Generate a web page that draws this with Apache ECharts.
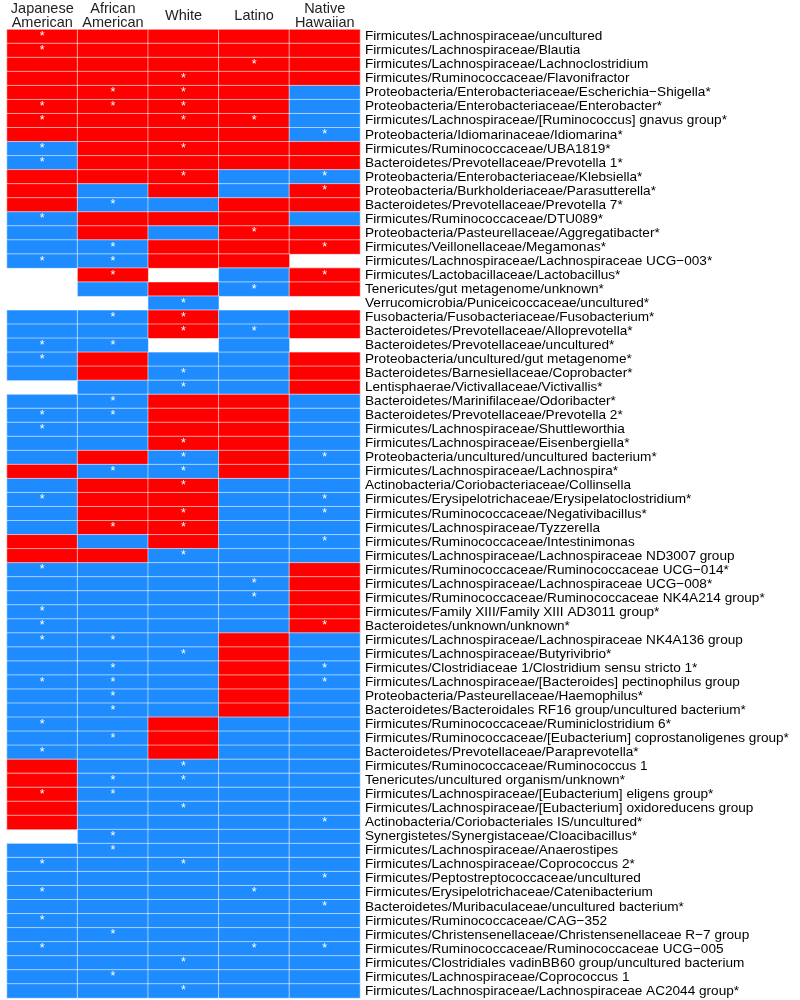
<!DOCTYPE html>
<html>
<head>
<meta charset="utf-8">
<script src="https://cdn.jsdelivr.net/npm/echarts@6/dist/echarts.min.js"></script>
<style>
html,body{margin:0;padding:0;background:#fff;}
#chart{width:800px;height:1000px;}
</style>
</head>
<body>
<div id="chart"></div>
<script>
// Column groups
const groups = ["Japanese\nAmerican", "African\nAmerican", "White", "Latino", "Native\nHawaiian"];

// Taxa (rows, top to bottom)
const taxa = [
  "Firmicutes/Lachnospiraceae/uncultured",
  "Firmicutes/Lachnospiraceae/Blautia",
  "Firmicutes/Lachnospiraceae/Lachnoclostridium",
  "Firmicutes/Ruminococcaceae/Flavonifractor",
  "Proteobacteria/Enterobacteriaceae/Escherichia\u2212Shigella*",
  "Proteobacteria/Enterobacteriaceae/Enterobacter*",
  "Firmicutes/Lachnospiraceae/[Ruminococcus] gnavus group*",
  "Proteobacteria/Idiomarinaceae/Idiomarina*",
  "Firmicutes/Ruminococcaceae/UBA1819*",
  "Bacteroidetes/Prevotellaceae/Prevotella 1*",
  "Proteobacteria/Enterobacteriaceae/Klebsiella*",
  "Proteobacteria/Burkholderiaceae/Parasutterella*",
  "Bacteroidetes/Prevotellaceae/Prevotella 7*",
  "Firmicutes/Ruminococcaceae/DTU089*",
  "Proteobacteria/Pasteurellaceae/Aggregatibacter*",
  "Firmicutes/Veillonellaceae/Megamonas*",
  "Firmicutes/Lachnospiraceae/Lachnospiraceae UCG\u2212003*",
  "Firmicutes/Lactobacillaceae/Lactobacillus*",
  "Tenericutes/gut metagenome/unknown*",
  "Verrucomicrobia/Puniceicoccaceae/uncultured*",
  "Fusobacteria/Fusobacteriaceae/Fusobacterium*",
  "Bacteroidetes/Prevotellaceae/Alloprevotella*",
  "Bacteroidetes/Prevotellaceae/uncultured*",
  "Proteobacteria/uncultured/gut metagenome*",
  "Bacteroidetes/Barnesiellaceae/Coprobacter*",
  "Lentisphaerae/Victivallaceae/Victivallis*",
  "Bacteroidetes/Marinifilaceae/Odoribacter*",
  "Bacteroidetes/Prevotellaceae/Prevotella 2*",
  "Firmicutes/Lachnospiraceae/Shuttleworthia",
  "Firmicutes/Lachnospiraceae/Eisenbergiella*",
  "Proteobacteria/uncultured/uncultured bacterium*",
  "Firmicutes/Lachnospiraceae/Lachnospira*",
  "Actinobacteria/Coriobacteriaceae/Collinsella",
  "Firmicutes/Erysipelotrichaceae/Erysipelatoclostridium*",
  "Firmicutes/Ruminococcaceae/Negativibacillus*",
  "Firmicutes/Lachnospiraceae/Tyzzerella",
  "Firmicutes/Ruminococcaceae/Intestinimonas",
  "Firmicutes/Lachnospiraceae/Lachnospiraceae ND3007 group",
  "Firmicutes/Ruminococcaceae/Ruminococcaceae UCG\u2212014*",
  "Firmicutes/Lachnospiraceae/Lachnospiraceae UCG\u2212008*",
  "Firmicutes/Ruminococcaceae/Ruminococcaceae NK4A214 group*",
  "Firmicutes/Family XIII/Family XIII AD3011 group*",
  "Bacteroidetes/unknown/unknown*",
  "Firmicutes/Lachnospiraceae/Lachnospiraceae NK4A136 group",
  "Firmicutes/Lachnospiraceae/Butyrivibrio*",
  "Firmicutes/Clostridiaceae 1/Clostridium sensu stricto 1*",
  "Firmicutes/Lachnospiraceae/[Bacteroides] pectinophilus group",
  "Proteobacteria/Pasteurellaceae/Haemophilus*",
  "Bacteroidetes/Bacteroidales RF16 group/uncultured bacterium*",
  "Firmicutes/Ruminococcaceae/Ruminiclostridium 6*",
  "Firmicutes/Ruminococcaceae/[Eubacterium] coprostanoligenes group*",
  "Bacteroidetes/Prevotellaceae/Paraprevotella*",
  "Firmicutes/Ruminococcaceae/Ruminococcus 1",
  "Tenericutes/uncultured organism/unknown*",
  "Firmicutes/Lachnospiraceae/[Eubacterium] eligens group*",
  "Firmicutes/Lachnospiraceae/[Eubacterium] oxidoreducens group",
  "Actinobacteria/Coriobacteriales IS/uncultured*",
  "Synergistetes/Synergistaceae/Cloacibacillus*",
  "Firmicutes/Lachnospiraceae/Anaerostipes",
  "Firmicutes/Lachnospiraceae/Coprococcus 2*",
  "Firmicutes/Peptostreptococcaceae/uncultured",
  "Firmicutes/Erysipelotrichaceae/Catenibacterium",
  "Bacteroidetes/Muribaculaceae/uncultured bacterium*",
  "Firmicutes/Ruminococcaceae/CAG\u2212352",
  "Firmicutes/Christensenellaceae/Christensenellaceae R\u22127 group",
  "Firmicutes/Ruminococcaceae/Ruminococcaceae UCG\u2212005",
  "Firmicutes/Clostridiales vadinBB60 group/uncultured bacterium",
  "Firmicutes/Lachnospiraceae/Coprococcus 1",
  "Firmicutes/Lachnospiraceae/Lachnospiraceae AC2044 group*"
];

// Direction per row, one char per group: R = up (red), B = down (blue), _ = no data
const direction = [
  "RRRRR","RRRRR","RRRRR","RRRRR","RRRRB","RRRRB","RRRRB","RRRRB","BRRRR","BRRRR",
  "RRRBB","RBRBR","RBBRR","BRRRB","BRBRR","BBRRR","BBRR_","_R_BR","_BRBR","__B__",
  "BBRBR","BBRBR","BB_B_","BRBBR","BRBBR","_BBBR","BBRRB","BBRRB","BBRRB","BBRRB",
  "BRBRB","RBBRB","BRRBB","BRRBB","BRRBB","BRRBB","RBRBB","RRBBB","BBBBR","BBBBR",
  "BBBBR","BBBBR","BBBBR","BBBRB","BBBRB","BBBRB","BBBRB","BBBRB","BBBRB","BBRBB",
  "BBRBB","BBRBB","RBBBB","RBBBB","RBBBB","RBBBB","RBBBB","_BBBB","BBBBB","BBBBB",
  "BBBBB","BBBBB","BBBBB","BBBBB","BBBBB","BBBBB","BBBBB","BBBBB","BBBBB"
];

// Significance asterisks per row, one char per group: * = significant
const stars = [
  "*....","*....","...*.","..*..",".**..","***..","*.**.","....*","*.*..","*....",
  "..*.*","....*",".*...","*....","...*.",".*..*","**...",".*..*","...*.","..*..",
  ".**..","..**.","**...","*....","..*..","..*..",".*...","**...","*....","..*..",
  "..*.*",".**..","..*..","*...*","..*.*",".**..","....*","..*..","*....","...*.",
  "...*.","*....","*...*","**...","..*..",".*..*","**..*",".*...",".*...","*....",
  ".*...","*....","..*..",".**..","**...","..*..","....*",".*...",".*...","*.*..",
  "....*","*..*.","....*","*....",".*...","*..**","..*..",".*...","..*.."
];

const cells = [];
taxa.forEach((t, r) => {
  for (let c = 0; c < groups.length; c++) {
    const d = direction[r][c];
    if (d === "_") continue;
    cells.push([c, r, d === "R" ? 1 : 0, stars[r][c] === "*" ? 1 : 0]);
  }
});

const chart = echarts.init(document.getElementById('chart'), null, {renderer: 'canvas'});
chart.setOption({
  animation: false,
  backgroundColor: '#ffffff',
  grid: {left: 7, right: 440, top: 29.5, bottom: 2},
  xAxis: {
    type: 'category',
    data: groups,
    position: 'top',
    axisLine: {show: false},
    axisTick: {show: false},
    splitLine: {show: false},
    axisLabel: {
      interval: 0,
      margin: 14,
      verticalAlign: 'middle',
      color: '#222',
      fontFamily: 'Liberation Sans, Arial, sans-serif',
      fontSize: 14.5,
      lineHeight: 14
    }
  },
  yAxis: {
    type: 'category',
    data: taxa,
    inverse: true,
    position: 'right',
    axisLine: {show: false},
    axisTick: {show: false},
    splitLine: {show: false},
    axisLabel: {
      interval: 0,
      margin: 5,
      color: '#000',
      fontFamily: 'Liberation Sans, Arial, sans-serif',
      fontSize: 13.6
    }
  },
  visualMap: {
    show: false,
    type: 'piecewise',
    dimension: 2,
    pieces: [
      {value: 1, color: '#FF0000'},
      {value: 0, color: '#1E8CFF'}
    ]
  },
  series: [{
    type: 'heatmap',
    data: cells,
    itemStyle: {borderColor: 'rgba(255,255,255,0.55)', borderWidth: 1},
    label: {
      show: true,
      color: '#ffffff',
      fontSize: 12.5,
      fontFamily: 'Liberation Sans, Arial, sans-serif',
      formatter: p => p.value[3] ? '*' : ''
    },
    emphasis: {disabled: true}
  }]
});
</script>
</body>
</html>
